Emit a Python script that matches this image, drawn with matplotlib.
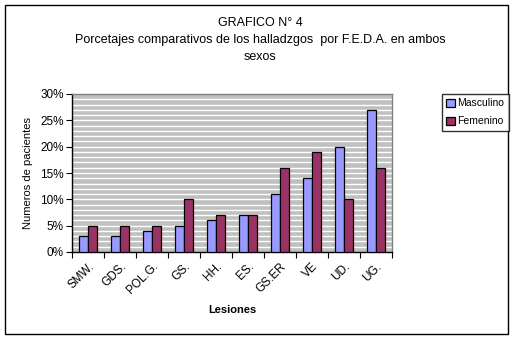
import matplotlib
matplotlib.use("Agg")
import matplotlib.pyplot as plt
from matplotlib.patches import Rectangle
import numpy as np

plt.rcParams['font.family'] = ['Liberation Sans', 'DejaVu Sans']

categories = ["SMW.", "GDS.", "POL.G.", "GS.", "HH.", "ES.", "GS.ER", "VE", "UD.", "UG."]
masculino = [3, 3, 4, 5, 6, 7, 11, 14, 20, 27]
femenino = [5, 5, 5, 10, 7, 7, 16, 19, 10, 16]
y_ticks = [0, 5, 10, 15, 20, 25, 30]
y_tick_labels = ["0%", "5%", "10%", "15%", "20%", "25%", "30%"]

W, H = 514, 339
fig = plt.figure(figsize=(W / 100, H / 100), dpi=100)
fig.patch.set_facecolor("white")

# outer chart frame
fig.add_artist(Rectangle((5 / W, 5 / H), 503 / W, 329 / H, transform=fig.transFigure,
                         fill=False, edgecolor="black", linewidth=1.0))

ax = fig.add_axes([72 / W, (H - 252) / H, 320 / W, 158 / H])
ax.set_facecolor("#C0C0C0")

x = np.arange(len(categories))
w = 0.28
ax.bar(x - w / 2, masculino, w, color="#9999FF", edgecolor="black", linewidth=0.9,
       label="Masculino", zorder=3)
ax.bar(x + w / 2, femenino, w, color="#993366", edgecolor="black", linewidth=0.9,
       label="Femenino", zorder=3)

ax.set_xlim(-0.5, len(categories) - 0.5)
ax.set_ylim(0, 30)

# white gridlines every 1%
for v in range(1, 30):
    ax.axhline(v, color="white", linewidth=1.0, zorder=1)

ax.set_yticks(y_ticks)
ax.set_yticklabels(y_tick_labels, fontsize=8.5)
ax.tick_params(axis="y", direction="out", length=4, width=0.8, pad=2)

ax.set_xticks(x)
ax.set_xticklabels(categories, fontsize=8.5, rotation=45, ha="right",
                   rotation_mode="anchor")
ax.tick_params(axis="x", which="major", length=0, pad=6)
ax.set_xticks(np.arange(-0.5, len(categories)), minor=True)
ax.tick_params(axis="x", which="minor", direction="out", length=4, width=0.8)

for s in ["top", "right"]:
    ax.spines[s].set_color("#808080")
    ax.spines[s].set_linewidth(1.0)
for s in ["left", "bottom"]:
    ax.spines[s].set_color("black")
    ax.spines[s].set_linewidth(1.0)

ax.set_ylabel("Numeros de pacientes", fontsize=8, labelpad=5)
ax.set_xlabel("Lesiones", fontsize=8, fontweight="bold", labelpad=6)

fig.text(260 / W, 1 - 23 / H, "GRAFICO N° 4", ha="center", va="center", fontsize=9)
fig.text(260 / W, 1 - 40 / H, "Porcetajes comparativos de los halladzgos  por F.E.D.A. en ambos",
         ha="center", va="center", fontsize=9)
fig.text(260 / W, 1 - 57 / H, "sexos", ha="center", va="center", fontsize=9)

leg = fig.legend(loc="upper left", bbox_to_anchor=(442 / W, 1 - 94 / H), fontsize=7.5,
                 frameon=True, fancybox=False, edgecolor="black", handlelength=0.8,
                 handleheight=0.8, handletextpad=0.3, borderpad=0.4, labelspacing=0.8,
                 borderaxespad=0)
leg.get_frame().set_linewidth(1.0)

fig.savefig("out.png", dpi=100)
